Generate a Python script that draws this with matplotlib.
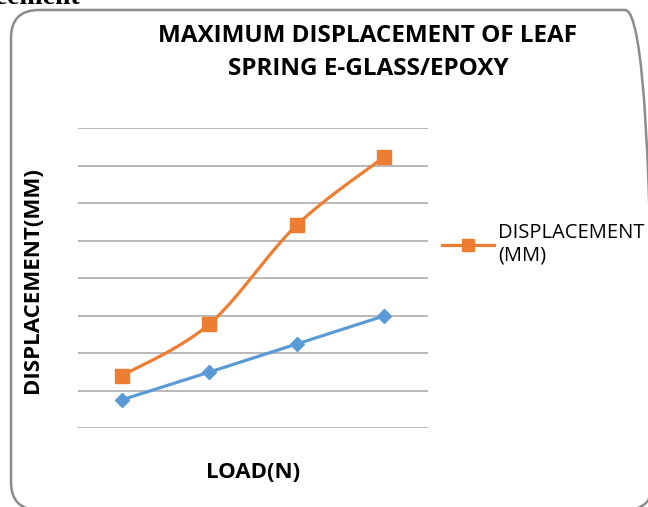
import numpy as np
import matplotlib
matplotlib.use("Agg")
import matplotlib.pyplot as plt
from matplotlib.patches import FancyBboxPatch
from matplotlib.lines import Line2D

loads = ["1", "2", "3", "4"]
disp_orange = [1.39, 2.77, 5.41, 7.23]
disp_blue = [0.75, 1.49, 2.24, 2.99]

ORANGE = "#ED7D31"
BLUE = "#5B9BD5"

W, H = 648, 507
fig = plt.figure(figsize=(W / 100, H / 100), dpi=100)

# background axes in pixel units for the rounded chart border
bg = fig.add_axes([0, 0, 1, 1], zorder=-1)
bg.set_xlim(0, W)
bg.set_ylim(0, H)
bg.axis("off")
border = FancyBboxPatch((11, -3), 642, 500,
                        boxstyle="round,pad=0,rounding_size=28",
                        fill=False, edgecolor="#8C8C8C", linewidth=1.8,
                        clip_on=False)
bg.add_patch(border)

ax = fig.add_axes([78 / W, 1 - 428 / H, 350 / W, 300 / H])
ax.set_xlim(-0.5, len(loads) - 0.5)
ax.set_ylim(0, 8)
ax.set_yticks(np.arange(0, 9, 1))
ax.set_xticks(range(len(loads)))
ax.tick_params(length=0, labelleft=False, labelbottom=False)
ax.grid(axis="y", color="#A6A6A6", linewidth=1.1)
ax.set_axisbelow(True)
ax.patch.set_alpha(0)
for s in ax.spines.values():
    s.set_visible(False)


def smooth(xs, ys, n=40):
    pts = np.column_stack([xs, ys]).astype(float)
    ext = np.vstack([pts[0], pts, pts[-1]])
    out = []
    for i in range(len(pts) - 1):
        p0, p3 = ext[i + 1], ext[i + 2]
        p1 = p0 + (ext[i + 2] - ext[i]) / 6
        p2 = p3 - (ext[i + 3] - ext[i + 1]) / 6
        t = np.linspace(0, 1, n)[:, None]
        seg = ((1 - t) ** 3) * p0 + 3 * ((1 - t) ** 2) * t * p1 + 3 * (1 - t) * t ** 2 * p2 + t ** 3 * p3
        out.append(seg if i == 0 else seg[1:])
    c = np.vstack(out)
    return c[:, 0], c[:, 1]


x = np.arange(len(loads))
ax.plot(x, disp_blue, color=BLUE, linewidth=2.3, marker="D", markersize=7,
        markerfacecolor=BLUE, markeredgecolor=BLUE, zorder=3)
sx, sy = smooth(x, disp_orange)
ax.plot(sx, sy, color=ORANGE, linewidth=2.3, zorder=3)
ax.plot(x, disp_orange, linestyle="none", marker="s", markersize=10,
        color=ORANGE, zorder=4)

# title
fig.text(368 / W, 1 - 36 / H, "MAXIMUM DISPLACEMENT OF LEAF", ha="center", va="center",
         fontsize=17.5, fontweight="bold", family="Open Sans", color="#000000")
fig.text(368 / W, 1 - 69 / H, "SPRING E-GLASS/EPOXY", ha="center", va="center",
         fontsize=17.5, fontweight="bold", family="Open Sans", color="#000000")

# axis labels
fig.text(33 / W, 1 - 280 / H, "DISPLACEMENT(MM)", rotation=90, ha="center", va="center",
         fontsize=16, fontweight="bold", family="Open Sans")
fig.text(253 / W, 1 - 473 / H, "LOAD(N)", ha="center", va="center",
         fontsize=16, fontweight="bold", family="Open Sans")

# legend (only orange series)
handle = Line2D([], [], color=ORANGE, linewidth=2.3, marker="s", markersize=9)
fig.legend([handle], ["DISPLACEMENT\n(MM)"], loc="upper left",
           bbox_to_anchor=(442 / W, 1 - 223 / H), frameon=False,
           prop={"family": "Open Sans", "size": 14.5}, handlelength=2.6,
           handletextpad=0.2, borderaxespad=0, borderpad=0)

# cut-off text above chart
fig.text(80 / W, 1 - 4 / H, "Displacement", ha="right", va="baseline",
         fontsize=20, fontweight="bold", family="Liberation Serif")

fig.savefig("out.png", dpi=100)
